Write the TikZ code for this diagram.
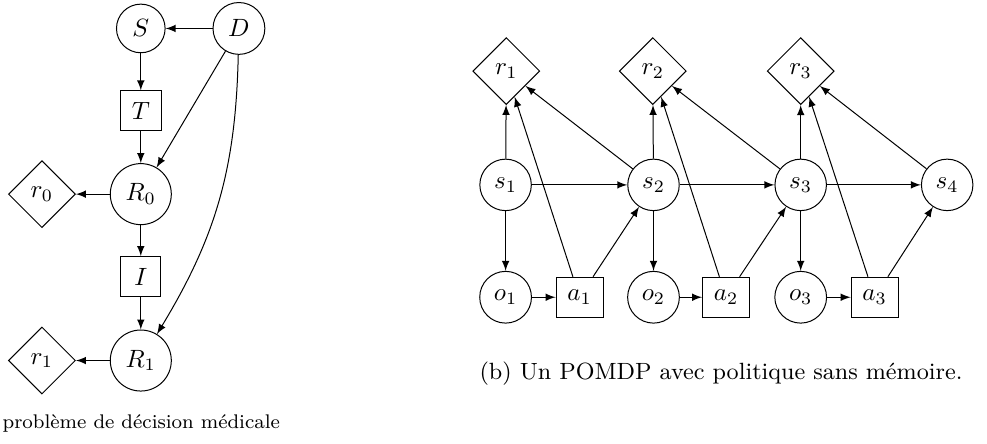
\documentclass[tikz,border=0pt]{standalone}
\usepackage{amsmath,amssymb}
\usepackage{tikz}
\usetikzlibrary{shapes}
\usetikzlibrary{arrows}
\tikzset{
  etatnode/.style={shape=circle,draw,inner sep=3.5pt},
  decnode/.style={shape=rectangle,draw,inner sep=4.5pt,minimum width=16pt,minimum height=16pt},
  gainnode/.style={shape=diamond,draw,inner sep=3pt},
  legende/.style={font=\fontsize{9.4pt}{11pt}\selectfont},
}
\newcommand{\etat}[4]{\node[etatnode] (#1) at ( #2 , #3 ) {#4};}
\newcommand{\decision}[4]{\node[decnode] (#1) at ( #2 , #3 ) {#4};}
\newcommand{\gain}[4]{\node[gainnode] (#1) at ( #2 , #3 ) {#4};}
\begin{document}
\begin{tikzpicture}[>=latex]
        \useasboundingbox (0,0) rectangle (13.88,6.23);
        % (a) decision medicale
        \etat{S}{1.98}{5.83}{$S$}
        \etat{D}{3.36}{5.83}{$D$}
        \decision{T}{1.98}{4.67}{$T$}
        \etat{R0}{1.98}{3.50}{$R_0$}
        \gain{g0}{0.59}{3.50}{$r_0$}
        \decision{I}{1.98}{2.34}{$I$}
        \etat{R1}{1.98}{1.16}{$R_1$}
        \gain{g1}{0.59}{1.16}{$r_1$}

        \draw[->] (D) -- (S);
        \draw[->] (S) -- (T);
        \draw[->] (T) -- (R0);
        \draw[->] (D) -- (R0);
        \draw[->] (D) to[bend left=15] (R1);
        \draw[->] (R0) -- (g0);
        \draw[->] (R0) -- (I);
        \draw[->] (I) -- (R1);
        \draw[->] (R1) -- (g1);

        \node[legende,font=\fontsize{7.9pt}{9.5pt}\selectfont,anchor=base west,inner sep=0pt] (capa) at (0.03,0.21) {probl\`eme de d\'ecision m\'edicale};

        % (b) POMDP
        \gain{r1}{7.12}{5.23}{$r_1$}
        \gain{r2}{9.18}{5.23}{$r_2$}
        \gain{r3}{11.26}{5.23}{$r_3$}

        \etat{s1}{7.11}{3.63}{$s_1$}
        \etat{s2}{9.19}{3.63}{$s_2$}
        \etat{s3}{11.26}{3.63}{$s_3$}
        \etat{s4}{13.32}{3.63}{$s_4$}

        \etat{o1}{7.11}{2.05}{$o_1$}
        \etat{o2}{9.19}{2.05}{$o_2$}
        \etat{o3}{11.26}{2.05}{$o_3$}

        \decision{a1}{8.15}{2.05}{$a_1$}
        \decision{a2}{10.21}{2.05}{$a_2$}
        \decision{a3}{12.30}{2.05}{$a_3$}

        \draw[->] (s1) -- (s2);
        \draw[->] (s2) -- (s3);
        \draw[->] (s3) -- (s4);

        \draw[->] (s1) -- (r1);
        \draw[->] (s2) -- (r2);
        \draw[->] (s3) -- (r3);
        \draw[->] (s2) -- (r1);
        \draw[->] (s3) -- (r2);
        \draw[->] (s4) -- (r3);

        \draw[->] (s1) -- (o1);
        \draw[->] (s2) -- (o2);
        \draw[->] (s3) -- (o3);

        \draw[->] (o1) -- (a1);
        \draw[->] (o2) -- (a2);
        \draw[->] (o3) -- (a3);

        \draw[->] (a1) -- (s2);
        \draw[->] (a2) -- (s3);
        \draw[->] (a3) -- (s4);
        \draw[->] (a1) -- (r1);
        \draw[->] (a2) -- (r2);
        \draw[->] (a3) -- (r3);

        \node[legende,anchor=base,inner sep=0pt] (capb) at (10.14,0.90) {(b) Un POMDP avec politique sans m\'emoire.};
    \end{tikzpicture}
\end{document}
